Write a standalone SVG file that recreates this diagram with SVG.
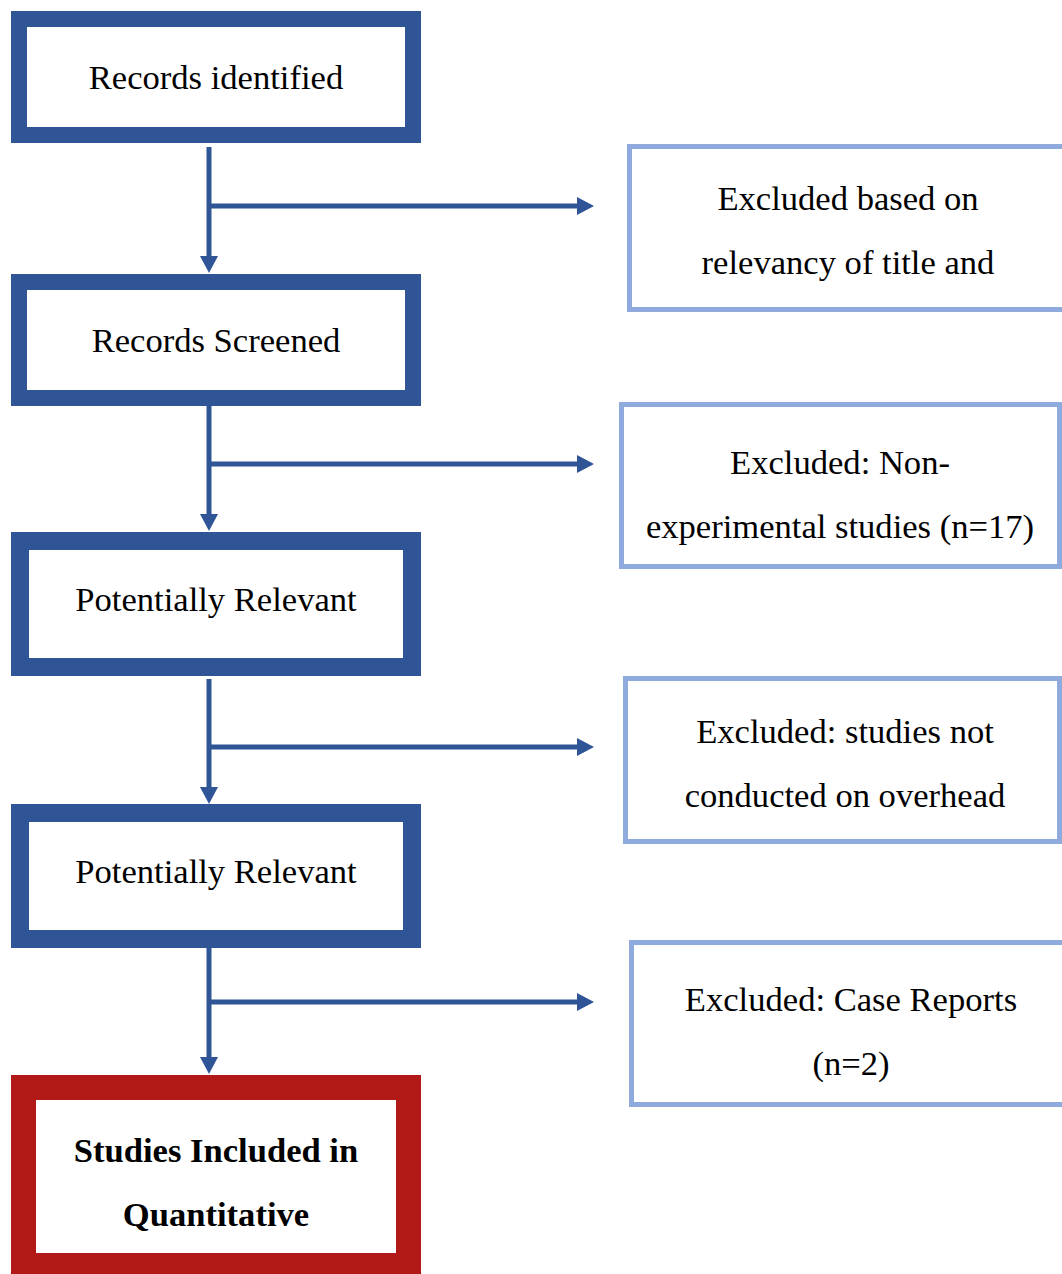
<svg xmlns="http://www.w3.org/2000/svg" width="1062" height="1274" viewBox="0 0 1062 1274">
  <style>
    .main { fill: #ffffff; stroke: #2F5597; }
    .excl { fill: #ffffff; stroke: #8FAADC; stroke-width: 5; }
    .final { fill: #ffffff; stroke: #B11917; stroke-width: 25; }
    .t { font-family: "Liberation Serif", "Times New Roman", serif; font-size: 34.6px; fill: #000000; text-anchor: middle; }
    .b { font-weight: bold; }
    .conn { stroke: #2F5597; stroke-width: 5; fill: none; }
  </style>
  <defs>
    <marker id="arrow" viewBox="0 0 17 18" refX="0" refY="9" markerWidth="17" markerHeight="18" markerUnits="userSpaceOnUse" orient="auto">
      <path d="M0,0 L17,9 L0,18 Z" fill="#2F5597"/>
    </marker>
  </defs>
  <rect width="1062" height="1274" fill="#ffffff"/>

  <g id="connectors">
    <line class="conn" x1="209" y1="147" x2="209" y2="256" marker-end="url(#arrow)"/>
    <line class="conn" x1="209" y1="206" x2="577" y2="206" marker-end="url(#arrow)"/>
    <line class="conn" x1="209" y1="406" x2="209" y2="514" marker-end="url(#arrow)"/>
    <line class="conn" x1="209" y1="464" x2="577" y2="464" marker-end="url(#arrow)"/>
    <line class="conn" x1="209" y1="679" x2="209" y2="787" marker-end="url(#arrow)"/>
    <line class="conn" x1="209" y1="747" x2="577" y2="747" marker-end="url(#arrow)"/>
    <line class="conn" x1="209" y1="948" x2="209" y2="1057" marker-end="url(#arrow)"/>
    <line class="conn" x1="209" y1="1002" x2="577" y2="1002" marker-end="url(#arrow)"/>
  </g>

  <g id="records-identified">
    <rect class="main" x="19" y="19" width="394" height="116" stroke-width="16"/>
    <text class="t" x="216" y="89">Records identified</text>
  </g>

  <g id="records-screened">
    <rect class="main" x="19" y="282" width="394" height="116" stroke-width="16"/>
    <text class="t" x="216" y="352">Records Screened</text>
  </g>

  <g id="potentially-relevant-1">
    <rect class="main" x="20" y="541" width="392" height="126" stroke-width="18"/>
    <text class="t" x="216" y="611">Potentially Relevant</text>
  </g>

  <g id="potentially-relevant-2">
    <rect class="main" x="20" y="813" width="392" height="126" stroke-width="18"/>
    <text class="t" x="216" y="883">Potentially Relevant</text>
  </g>

  <g id="studies-included">
    <rect class="final" x="23.5" y="1087.5" width="385" height="178"/>
    <text class="t b" x="216" y="1162">Studies Included in</text>
    <text class="t b" x="216" y="1226">Quantitative</text>
  </g>

  <g id="excluded-title">
    <rect class="excl" x="629.5" y="146.5" width="445" height="163"/>
    <text class="t" x="848" y="210">Excluded based on</text>
    <text class="t" x="848" y="274">relevancy of title and</text>
  </g>

  <g id="excluded-nonexperimental">
    <rect class="excl" x="621.5" y="404.5" width="438" height="162"/>
    <text class="t" x="840" y="474">Excluded: Non-</text>
    <text class="t" x="840" y="538">experimental studies (n=17)</text>
  </g>

  <g id="excluded-overhead">
    <rect class="excl" x="625.5" y="678.5" width="434" height="163"/>
    <text class="t" x="845" y="743">Excluded: studies not</text>
    <text class="t" x="845" y="807">conducted on overhead</text>
  </g>

  <g id="excluded-case-reports">
    <rect class="excl" x="631.5" y="942.5" width="445" height="162"/>
    <text class="t" x="851" y="1011">Excluded: Case Reports</text>
    <text class="t" x="851" y="1075">(n=2)</text>
  </g>
</svg>
